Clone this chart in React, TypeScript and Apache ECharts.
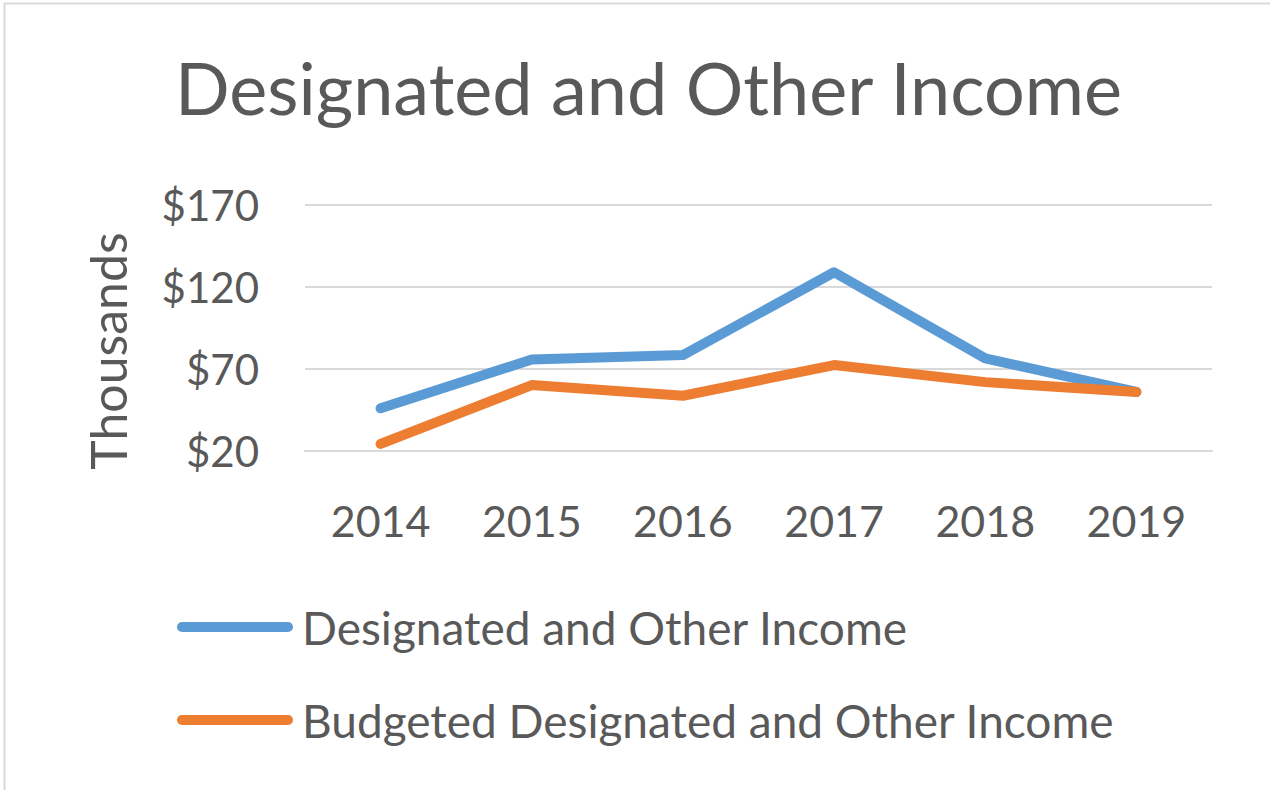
import React, { useEffect, useRef } from "react";
import * as echarts from "echarts";

const years = ["2014", "2015", "2016", "2017", "2018", "2019"];
const actualIncome = [46, 75.8, 78.5, 129, 76.5, 56];
const budgetedIncome = [24.3, 60.2, 53.7, 72.4, 62, 56];
const seriesNames = ["Designated and Other Income", "Budgeted Designated and Other Income"];
const yTitle = "Thousands";
const chartTitle = "Designated and Other Income";

const FONT = "Lato";
const TEXT = "#595959";
const STADIUM = "path://M5,0 L111,0 A5,5 0 0 1 111,10 L5,10 A5,5 0 0 1 5,0 Z";

export default function App() {
  const ref = useRef<HTMLDivElement>(null);
  useEffect(() => {
    const chart = echarts.init(ref.current!, undefined, { renderer: "svg" });
    chart.setOption({
      animation: false,
      backgroundColor: "#ffffff",
      textStyle: { fontFamily: FONT, color: TEXT },
      title: {
        text: chartTitle,
        left: 170,
        top: 46,
        textStyle: { fontFamily: FONT, fontSize: 72, fontWeight: "normal", color: TEXT },
      },
      graphic: [
        {
          type: "rect",
          shape: { x: 4.5, y: 3.5, width: 1300, height: 900 },
          style: { fill: "none", stroke: "#d9d9d9", lineWidth: 2 },
          silent: true,
        },
        {
          type: "text",
          x: 108,
          y: 351,
          rotation: Math.PI / 2,
          style: {
            text: yTitle,
            fontFamily: FONT,
            fontSize: 50,
            fill: TEXT,
            align: "center",
            verticalAlign: "middle",
          },
          silent: true,
        },
      ],
      grid: { left: 305, right: 58, top: 205, bottom: 339, containLabel: false },
      xAxis: {
        type: "category",
        data: years,
        boundaryGap: true,
        axisLine: { show: true, lineStyle: { color: "#d9d9d9", width: 2 } },
        axisTick: { show: false },
        axisLabel: { fontFamily: FONT, fontSize: 43, color: TEXT, margin: 48 },
      },
      yAxis: {
        type: "value",
        min: 20,
        max: 170,
        interval: 50,
        axisLine: { show: false },
        axisTick: { show: false },
        splitLine: { lineStyle: { color: "#d9d9d9", width: 2 } },
        axisLabel: {
          fontFamily: FONT,
          fontSize: 42,
          color: TEXT,
          margin: 46,
          formatter: (v: number) => "$" + v,
        },
      },
      legend: {
        orient: "vertical",
        left: 172,
        top: 599,
        icon: STADIUM,
        itemWidth: 116,
        itemHeight: 10,
        itemGap: 47,
        textStyle: { fontFamily: FONT, fontSize: 46, color: TEXT, padding: [0, 0, 0, 4] },
        data: seriesNames,
      },
      series: [
        {
          name: seriesNames[0],
          type: "line",
          data: actualIncome,
          symbol: "none",
          color: "#5b9bd5",
          lineStyle: { width: 10, color: "#5b9bd5", cap: "round", join: "round" },
        },
        {
          name: seriesNames[1],
          type: "line",
          data: budgetedIncome,
          symbol: "none",
          color: "#ed7d31",
          lineStyle: { width: 10, color: "#ed7d31", cap: "round", join: "round" },
        },
      ],
    });
    return () => chart.dispose();
  }, []);
  return (
    <div
      ref={ref}
      style={{ position: "fixed", left: 0, top: 0, width: 1270, height: 790 }}
    />
  );
}
